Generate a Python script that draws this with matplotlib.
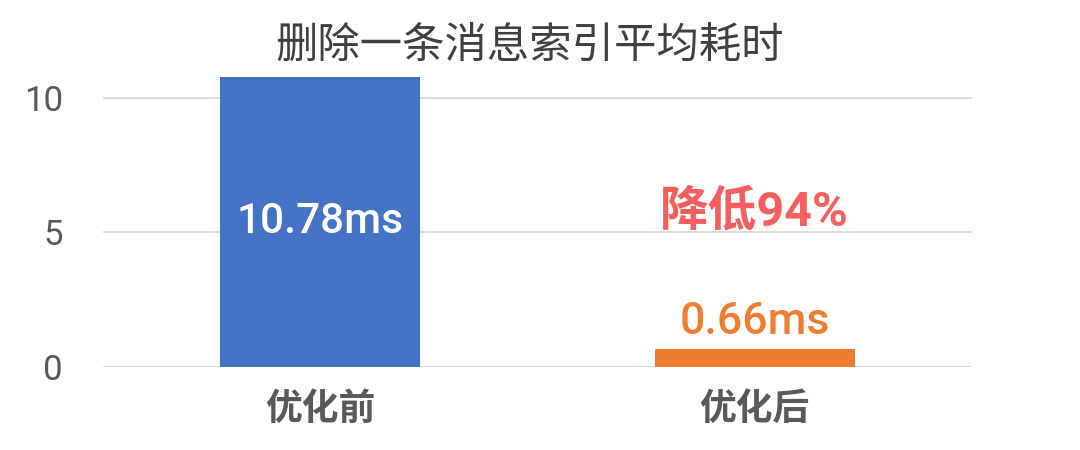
import matplotlib
matplotlib.use("Agg")
import matplotlib.pyplot as plt

title = "删除一条消息索引平均耗时"
categories = ["优化前", "优化后"]
values = [10.78, 0.66]
value_labels = ["10.78ms", "0.66ms"]
reduction_label = "降低94%"
yticks = [0, 5, 10]

bar_colors = ["#4472C4", "#ED7D31"]
mixed = ["Roboto", "Noto Sans CJK SC", "DejaVu Sans"]
cjk = ["Noto Sans CJK SC", "DejaVu Sans"]

fig = plt.figure(figsize=(10.8, 4.5), dpi=100)
ax = fig.add_axes([103/1080, 1 - 367/450, (972-103)/1080, (367-71)/450])

x = list(range(len(categories)))
ax.bar(x, values, width=0.46, color=bar_colors, zorder=3)

ax.set_xlim(-0.5, 1.5)
ax.set_ylim(0, 11)
ax.set_yticks(yticks)
ax.set_yticklabels([str(t) for t in yticks], fontsize=25, color="#595959", family=mixed)
ax.tick_params(axis="y", length=0, pad=29)
ax.set_xticks(x)
ax.set_xticklabels(categories, fontsize=26.5, color="#595959", family=cjk, fontweight="bold")
ax.tick_params(axis="x", length=0, pad=17)

ax.grid(axis="y", color="#D9D9D9", linewidth=1.3, zorder=0)
for s in ax.spines.values():
    s.set_visible(False)

# value labels
ax.text(x[0], values[0] / 2, value_labels[0], ha="center", va="center",
        color="white", fontsize=30.5, fontweight="medium", family=mixed, zorder=4)
ax.text(x[1], values[1] + 1.0, value_labels[1], ha="center", va="center",
        color="#ED7D31", fontsize=32, fontweight="medium", family=mixed, zorder=4)
ax.text(x[1], 5.7, reduction_label, ha="center", va="center",
        color="#F65F5F", fontsize=35, fontweight="bold", family=mixed, zorder=4)

fig.text(530/1080, 1 - 46/450, title, ha="center", va="center",
         fontsize=30.5, color="#404040", family=cjk)

fig.savefig("out.png", dpi=100, facecolor="white")
